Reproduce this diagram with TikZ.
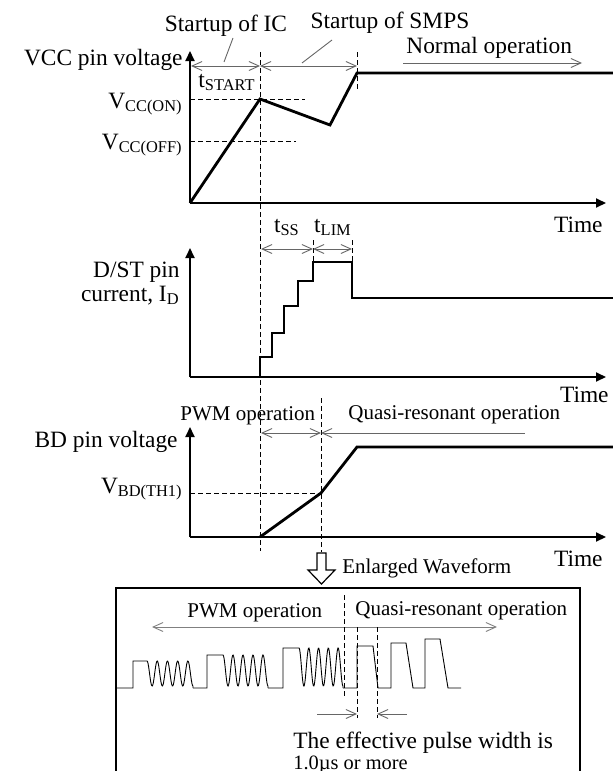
\documentclass[tikz,border=0pt]{standalone}
\usepackage{fontspec}
\setmainfont{Liberation Serif}
\usetikzlibrary{arrows.meta}

\begin{document}
\begin{tikzpicture}[x=0.5pt, y=-0.5pt,
    every node/.style={font=\fontsize{11.7}{14}\selectfont, inner sep=0pt},
    note/.style={font=\fontsize{10.5}{12}\selectfont},
    axis/.style={line width=1pt, -{Triangle[length=5pt, width=4.5pt]}},
    wave/.style={line width=1.4pt},
    guide/.style={line width=0.45pt, dash pattern=on 2.5pt off 1.5pt},
    span/.style={draw=black!60, line width=0.45pt, {Straight Barb[length=5pt, width=4.5pt]}-{Straight Barb[length=5pt, width=4.5pt]}},
    fwd/.style={draw=black!60, line width=0.45pt, -{Straight Barb[length=5pt, width=4.5pt]}},
    back/.style={draw=black!60, line width=0.45pt, {Straight Barb[length=5pt, width=4.5pt]}-},
    ring/.style={line width=0.45pt}]
  \useasboundingbox (0,0) rectangle (613,771);

  % VCC pin voltage
  \coordinate (o1) at (190,203);
  \coordinate (y1) at (190,51);
  \coordinate (x1) at (606,203);
  \draw[axis] (o1) -- (y1);
  \draw[axis] (o1) -- (x1);
  \node[anchor=base east] (vcc) at (183,65) {VCC pin voltage};
  \node[anchor=base east] (time1) at (603,232) {Time};
  \coordinate (on) at (260,99);
  \coordinate (off) at (190,141);
  \draw[wave] (o1) -- (on) -- (330,125) -- (357,73) -- (613,73);
  \draw[guide] (o1 |- on) -- (305,99);
  \draw[guide] (off) -- (296,141);
  \node[anchor=base east] (von) at (183,108) {V\textsubscript{CC(ON)}};
  \node[anchor=base east] (voff) at (183,149) {V\textsubscript{CC(OFF)}};
  \coordinate (ic0) at (191,66);
  \coordinate (ic1) at (260,66);
  \coordinate (smps1) at (357,66);
  \draw[guide] (260,52) -- (260,551);
  \draw[guide] (357,52) -- (357,90);
  \draw[span] (ic0) -- (ic1);
  \draw[span] (ic1) -- (smps1);
  \node[anchor=base] (tstart) at (227,87) {t\textsubscript{START}};
  \node[anchor=base] (ic) at (226,32) {Startup of IC};
  \node[anchor=base] (smps) at (390,28) {Startup of SMPS};
  \coordinate (icl) at (224,62);
  \coordinate (smpsl) at (302,63);
  \draw[draw=black!60, line width=0.45pt] (233,38) -- (icl);
  \draw[draw=black!60, line width=0.45pt] (332,40) -- (smpsl);
  \node[anchor=base west] (normal) at (406,54) {Normal operation};
  \coordinate (n0) at (403,63);
  \coordinate (n1) at (582,63);
  \draw[fwd] (n0) -- (n1);

  % D/ST pin current
  \coordinate (o2) at (190,377);
  \coordinate (y2) at (190,248);
  \coordinate (x2) at (606,377);
  \draw[axis] (o2) -- (y2);
  \draw[axis] (o2) -- (x2);
  \node[anchor=base east] (dst) at (180,277) {D/ST pin};
  \node[anchor=base east] (cur) at (180,301) {current, I\textsubscript{D}};
  \node[anchor=base east] (time2) at (609,402) {Time};
  \draw[wave] (260,377) |- (272,357) |- (284,333) |- (298,306) |- (313,281)
    |- (352,262) |- (613,298);
  \draw[guide] (313,240) -- (313,262);
  \draw[guide] (352,240) -- (352,262);
  \coordinate (ss0) at (261,249);
  \coordinate (ss1) at (313,249);
  \coordinate (lim1) at (352,249);
  \draw[span] (ss0) -- (ss1);
  \draw[span] (ss1) -- (lim1);
  \node[anchor=base] (tss) at (287,232) {t\textsubscript{SS}};
  \node[anchor=base] (tlim) at (333,232) {t\textsubscript{LIM}};

  % BD pin voltage
  \coordinate (o3) at (190,537);
  \coordinate (y3) at (190,427);
  \coordinate (x3) at (606,537);
  \draw[axis] (o3) -- (y3);
  \draw[axis] (o3) -- (x3);
  \node[anchor=base east] (bd) at (178,447) {BD pin voltage};
  \node[anchor=base east] (time3) at (603,566) {Time};
  \coordinate (th) at (321,493);
  \draw[wave] (260,537) -- (th) -- (357,447) -- (613,447);
  \draw[guide] (o3 |- th) -- (th);
  \draw[guide] (321,398) -- (321,552);
  \node[anchor=base east] (vbd) at (183,493) {V\textsubscript{BD(TH1)}};
  \coordinate (pwm0) at (261,433);
  \coordinate (pwm1) at (321,433);
  \coordinate (qr1) at (525,433);
  \draw[span] (pwm0) -- (pwm1);
  \draw[back] (pwm1) -- (qr1);
  \node[note, anchor=base west] (pwm) at (180,420) {PWM operation};
  \node[note, anchor=base west] (qr) at (348,419) {Quasi-resonant operation};
  \draw[line width=0.6pt] (317,553) -- (326,553) -- (326,570) -- (335,570)
    -- (321.5,584) -- (308,570) -- (317,570) -- cycle;
  \node[note, anchor=base west] (enl) at (342,573) {Enlarged Waveform};

  % enlarged waveform
  \draw[line width=0.75pt] (116,771) -- (116,588) -- (580,588) -- (580,771);
  \node[note, anchor=base west] (pwmb) at (187,617) {PWM operation};
  \node[note, anchor=base west] (qrb) at (355,615) {Quasi-resonant operation};
  \coordinate (b0) at (152,627);
  \coordinate (b1) at (497,627);
  \draw[span, draw=black!50] (b0) -- (b1);
  \draw[guide] (344,595) -- (344,698);
  \draw[guide] (357,627) -- (357,718);
  \draw[guide] (377,627) -- (377,718);
  \foreach \p/\r/\h/\f/\e in {116/133/661/147/193, 193/207/655/223/268, 268/283/648/299/343}
    \draw[ring] (\p,688) -- (\r,688) -- (\r,\h) -- (\f,\h)
      -- plot[domain=0:1, samples=90] ({\f+(\e-\f)*\x}, {\h+(686-\h)*(1-cos(1620*\x))/2})
      -- (\e,688);
  \draw[ring] (343,688) -- (357,688) |- (373,646) -- (378,688) -- (391,688)
    |- (406,643) -- (413,688) -- (425,688) |- (440,639) -- (448,688) -- (461,688);
  \coordinate (w0) at (317,714);
  \coordinate (w1) at (357,714);
  \coordinate (w2) at (377,714);
  \coordinate (w3) at (407,714);
  \draw[fwd] (w0) -- (w1);
  \draw[fwd] (w3) -- (w2);
  \node[anchor=base west] (eff) at (293,748) {The effective pulse width is};
  \node[anchor=base west, font=\fontsize{10.2}{12}\selectfont] (us) at (293,769) {1.0µs or more};
\end{tikzpicture}
\end{document}
